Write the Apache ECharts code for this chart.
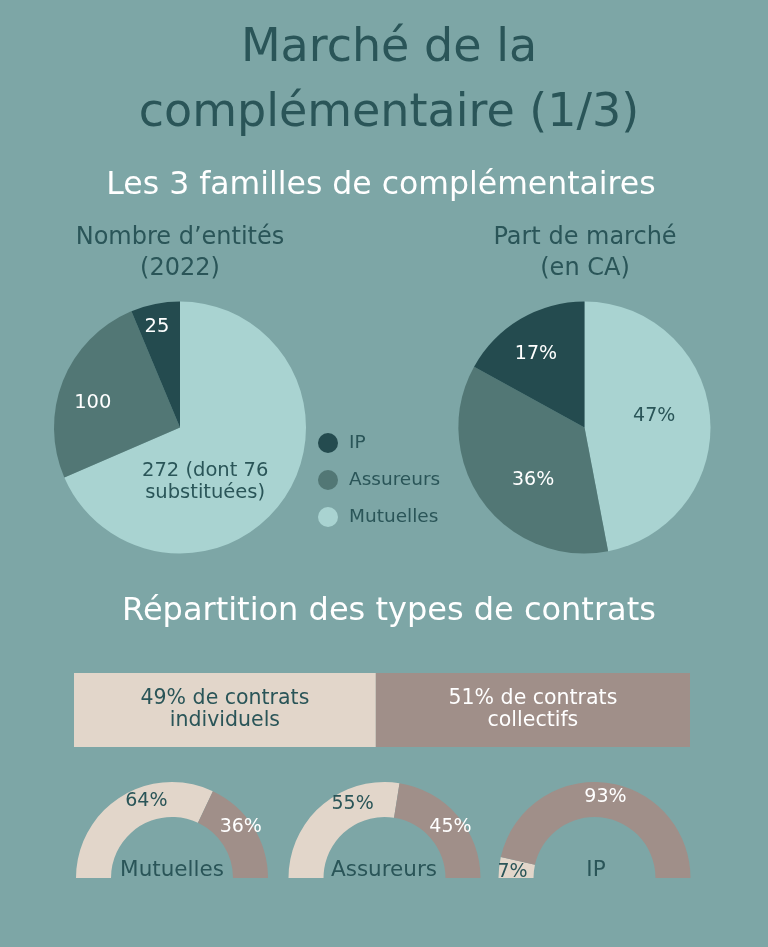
<!DOCTYPE html>
<html><head><meta charset="utf-8">
<script src="https://cdn.jsdelivr.net/npm/echarts@6/dist/echarts.min.js"></script>
<style>html,body{margin:0;padding:0;background:#7da6a6;}#c{width:768px;height:947px;}</style>
</head><body><div id="c"></div>
<script>
// ---- data ----
const families = ['Mutuelles', 'Assureurs', 'IP'];
const legendOrder = ['IP', 'Assureurs', 'Mutuelles'];
const entityCounts = [272, 100, 25];
const entityLabels = ['272 (dont 76\nsubstituées)', '100', '25'];
const marketShare = [47, 36, 17];
const contractTypes = ['individuels', 'collectifs'];
const contractShare = [49, 51];
const contractByFamily = { Mutuelles: [64, 36], Assureurs: [55, 45], IP: [7, 93] };

// ---- styles ----
const FONT = '"DejaVu Sans", "Noto Sans", sans-serif';
const DARK = '#2a5558';
const famColors = { Mutuelles: '#a9d3d1', Assureurs: '#527775', IP: '#244b4f' };
const ctColors = ['#e2d6ca', '#a08f89'];
const ctText = [DARK, '#ffffff'];

const chart = echarts.init(document.getElementById('c'), null, { renderer: 'canvas' });

const leftOffsets = { Mutuelles: [-30, 18], Assureurs: [-26, 0], IP: [-10, -36] };
const rightOffsets = { Mutuelles: [4, -5], Assureurs: [2, 14], IP: [-15, -17] };
const gaugeCenters = { Mutuelles: [172, 878], Assureurs: [384.5, 878], IP: [594.5, 878] };
const gaugeOffsets = { Mutuelles: [[18, -8], [0, -7]], Assureurs: [[21, -12], [4, 2]], IP: [[-1, 3], [2, 0]] };

function txt(x, y, text, size, color, weight) {
  return { type: 'text', x: x, y: y, style: { text: text, font: (weight || 'normal') + ' ' + size + 'px ' + FONT, fill: color, align: 'center', verticalAlign: 'middle' } };
}

const series = [];
series.push({
  type: 'pie', name: 'entites', center: [180, 427.5], radius: 126, startAngle: 90,
  silent: true, labelLine: { show: false },
  data: families.map((f, i) => ({
    name: f, value: entityCounts[i], itemStyle: { color: famColors[f] },
    label: { show: true, position: 'inside', formatter: entityLabels[i], offset: leftOffsets[f],
      color: f === 'Mutuelles' ? DARK : '#ffffff', fontSize: 19.5, lineHeight: 22, fontFamily: FONT, align: 'center' }
  }))
});
series.push({
  type: 'pie', name: 'part', center: [584.5, 427.5], radius: 126, startAngle: 90,
  silent: true, labelLine: { show: false },
  data: families.map((f, i) => ({
    name: f, value: marketShare[i], itemStyle: { color: famColors[f] },
    label: { show: true, position: 'inside', formatter: '{c}%', offset: rightOffsets[f],
      color: f === 'Mutuelles' ? DARK : '#ffffff', fontSize: 19, fontFamily: FONT }
  }))
});
families.forEach(f => {
  series.push({
    type: 'pie', name: 'g_' + f, center: gaugeCenters[f], radius: [61, 96],
    startAngle: 180, endAngle: 0, silent: true, labelLine: { show: false },
    data: contractTypes.map((c, i) => ({
      name: c, value: contractByFamily[f][i], itemStyle: { color: ctColors[i] },
      label: { show: true, position: 'inside', formatter: '{c}%', offset: gaugeOffsets[f][i],
        color: ctText[i], fontSize: 19, fontFamily: FONT }
    }))
  });
});
contractTypes.forEach((c, i) => {
  series.push({
    type: 'bar', name: c, stack: 'ct', xAxisIndex: 0, yAxisIndex: 0, barWidth: 74, silent: true,
    itemStyle: { color: ctColors[i] },
    label: { show: true, position: 'inside', formatter: p => p.value + '% de contrats\n' + c,
      color: ctText[i], fontSize: 20.5, lineHeight: 22, fontFamily: FONT },
    data: [contractShare[i]]
  });
});

const option = {
  backgroundColor: '#7da6a6',
  animation: false,
  grid: { left: 74, top: 673, width: 616, height: 74 },
  xAxis: { type: 'value', min: 0, max: 100, show: false },
  yAxis: { type: 'category', data: ['contrats'], show: false },
  legend: {
    data: legendOrder, orient: 'vertical', left: 318, top: 433, padding: 0,
    icon: 'circle', itemWidth: 20, itemHeight: 20, itemGap: 17, selectedMode: false,
    textStyle: { color: DARK, fontSize: 18.5, fontFamily: FONT, padding: [0, 0, 0, 6] }
  },
  graphic: [
    txt(389, 49, 'Marché de la', 46, DARK),
    txt(389, 114, 'complémentaire (1/3)', 46, DARK),
    txt(381, 186, 'Les 3 familles de complémentaires', 31.5, '#ffffff'),
    txt(180, 238, 'Nombre d\u2019entités', 24, DARK),
    txt(180, 269, '(2022)', 24, DARK),
    txt(585, 238, 'Part de marché', 24, DARK),
    txt(585, 269, '(en CA)', 24, DARK),
    txt(389, 612, 'Répartition des types de contrats', 32, '#ffffff'),
    txt(172, 870, 'Mutuelles', 21.5, DARK),
    txt(384, 870, 'Assureurs', 21.5, DARK),
    txt(596, 870, 'IP', 21.5, DARK)
  ],
  series: series
};
chart.setOption(option);
</script></body></html>
